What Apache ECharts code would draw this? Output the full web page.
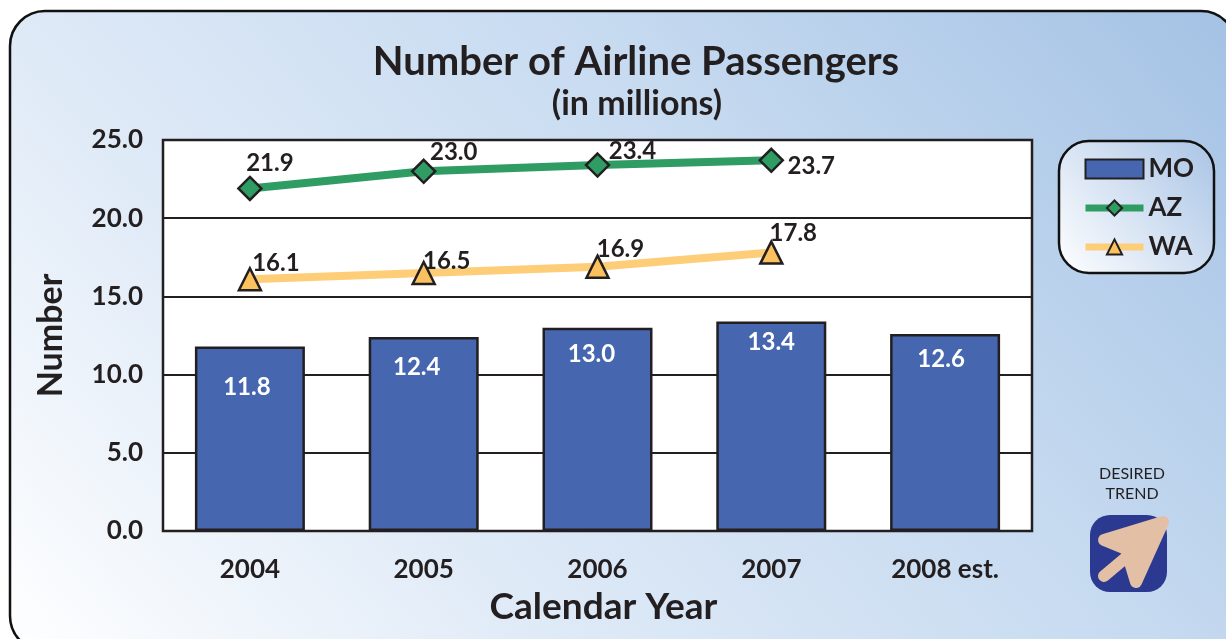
<!DOCTYPE html>
<html><head><meta charset="utf-8">
<style>html,body{margin:0;padding:0;background:#fff}#c{width:1226px;height:639px}</style>
<script src="https://cdn.jsdelivr.net/npm/echarts@6/dist/echarts.min.js"></script>
</head><body><div id="c"></div>
<script>
const categories = ['2004','2005','2006','2007','2008 est.'];
const moValues = [11.8,12.4,13.0,13.4,12.6];
const azValues = [21.9,23.0,23.4,23.7,null];
const waValues = [16.1,16.5,16.9,17.8,null];
const yTicks = [0,5,10,15,20,25];
const moLabelOffsets = [[-3,29],[-7,18],[-6,15],[0,9],[-4,13]];
const azLabelOffsets = [[20,-25],[30,-19],[35,-14],[40,6]];
const waLabelOffsets = [[26,-16],[23,-12],[23,-17],[22,-19]];
const INK = '#231f20';
const FONT = 'Lato, "Open Sans", sans-serif';

function withLabels(values, offsets) {
  return values.map((v,i) => ({
    value: v,
    label: offsets[i] ? {offset: offsets[i]} : undefined
  }));
}
const lbl = {show:true, fontFamily:FONT, fontWeight:'bold', fontSize:24, color:INK,
  formatter:p=>p.value==null?'':Number(p.value).toFixed(1)};

const chart = echarts.init(document.getElementById('c'), null, {renderer:'canvas'});
chart.setOption({
  animation:false,
  backgroundColor:'#fff',
  textStyle:{fontFamily:FONT},
  title:[
    {text:'Number of Airline Passengers',left:631,top:37,textAlign:'center',
     textStyle:{fontFamily:FONT,fontWeight:'bold',fontSize:40,color:INK}},
    {text:'(in millions)',left:632,top:82,textAlign:'center',
     textStyle:{fontFamily:FONT,fontWeight:'bold',fontSize:34,color:INK}}
  ],
  grid:{left:163,right:194,top:140,bottom:108,show:true,backgroundColor:'#fff',
        borderColor:INK,borderWidth:2.5,outerBoundsMode:'none'},
  legend:{
    left:1077,top:151,orient:'vertical',itemGap:13,itemWidth:58,itemHeight:19,
    data:[
      {name:'MO',icon:'rect'},
      {name:'AZ',lineStyle:{width:7}},
      {name:'WA',lineStyle:{width:7}}
    ],
    textStyle:{fontFamily:FONT,fontWeight:'bold',fontSize:26,color:INK},
    selectedMode:false
  },
  xAxis:{type:'category',data:categories,
    axisTick:{show:false},axisLine:{show:false},
    axisLabel:{margin:26,fontFamily:FONT,fontWeight:'bold',fontSize:26,color:INK},
    name:'Calendar Year',nameLocation:'middle',nameGap:58,
    nameTextStyle:{fontFamily:FONT,fontWeight:'bold',fontSize:37,color:INK,padding:[0,0,0,12]}},
  yAxis:{type:'value',min:0,max:25,interval:5,
    axisTick:{show:false},axisLine:{show:false},
    splitLine:{show:true,lineStyle:{color:INK,width:2}},
    axisLabel:{margin:20,fontFamily:FONT,fontWeight:'bold',fontSize:26,color:INK,
      formatter:v=>yTicks.includes(v)?v.toFixed(1):''},
    name:'Number',nameLocation:'middle',nameGap:95,
    nameTextStyle:{fontFamily:FONT,fontWeight:'bold',fontSize:34,color:INK}},
  series:[
    {name:'MO',type:'bar',data:withLabels(moValues,moLabelOffsets),barWidth:110,z:2,
     itemStyle:{color:'#4666b0',borderColor:INK,borderWidth:2.5},
     label:{...lbl,color:'#fff',position:'insideTop',distance:0}},
    {name:'AZ',type:'line',data:withLabels(azValues,azLabelOffsets),z:3,
     symbol:'diamond',symbolSize:23,
     lineStyle:{color:'#2f9c63',width:8},
     itemStyle:{color:'#2f9c63',borderColor:INK,borderWidth:2.5},
     label:{...lbl,position:'inside'}},
    {name:'WA',type:'line',data:withLabels(waValues,waLabelOffsets),z:3,
     symbol:'triangle',symbolSize:22,
     lineStyle:{color:'#fecd78',width:8},
     itemStyle:{color:'#fcc15f',borderColor:INK,borderWidth:2.5},
     label:{...lbl,position:'inside'}}
  ],
  graphic:[
    {type:'rect',z:-10,silent:true,shape:{x:10,y:11,width:1226,height:640,r:35},
     style:{stroke:'#111',lineWidth:2.5,
       fill:new echarts.graphic.LinearGradient(0,650,1043,-287,[
         {offset:0,color:'#ffffff'},{offset:0.3,color:'#dfeaf7'},{offset:0.62,color:'#c6daf0'},{offset:1,color:'#a0bfe3'}],true)}},
    {type:'rect',z:1,silent:true,shape:{x:1059,y:141,width:155,height:132,r:30},
     style:{stroke:'#111',lineWidth:2.5,
       fill:new echarts.graphic.LinearGradient(0,1,1,0,[
         {offset:0,color:'#ffffff'},{offset:1,color:'#a9c4e6'}])}},
    {type:'text',z:1,silent:true,style:{x:1132,y:474,text:'DESIRED',align:'center',verticalAlign:'middle',
       fontFamily:FONT,fontSize:16,fill:INK}},
    {type:'text',z:1,silent:true,style:{x:1132,y:494,text:'TREND',align:'center',verticalAlign:'middle',
       fontFamily:FONT,fontSize:16,fill:INK}},
    {type:'rect',z:1,silent:true,shape:{x:1090,y:515,width:77,height:77,r:20},style:{fill:'#2b3990'}},
    {type:'polygon',z:2,silent:true,shape:{points:[[1163,522],[1104,540],[1126,549],[1136,582]]},
     style:{fill:'#e3bfa5',stroke:'#e3bfa5',lineWidth:12,lineJoin:'round'}},
    {type:'line',z:2,silent:true,shape:{x1:1104,y1:576,x2:1135,y2:550},
     style:{stroke:'#e3bfa5',lineWidth:12,lineCap:'round'}}
  ]
});
</script></body></html>
